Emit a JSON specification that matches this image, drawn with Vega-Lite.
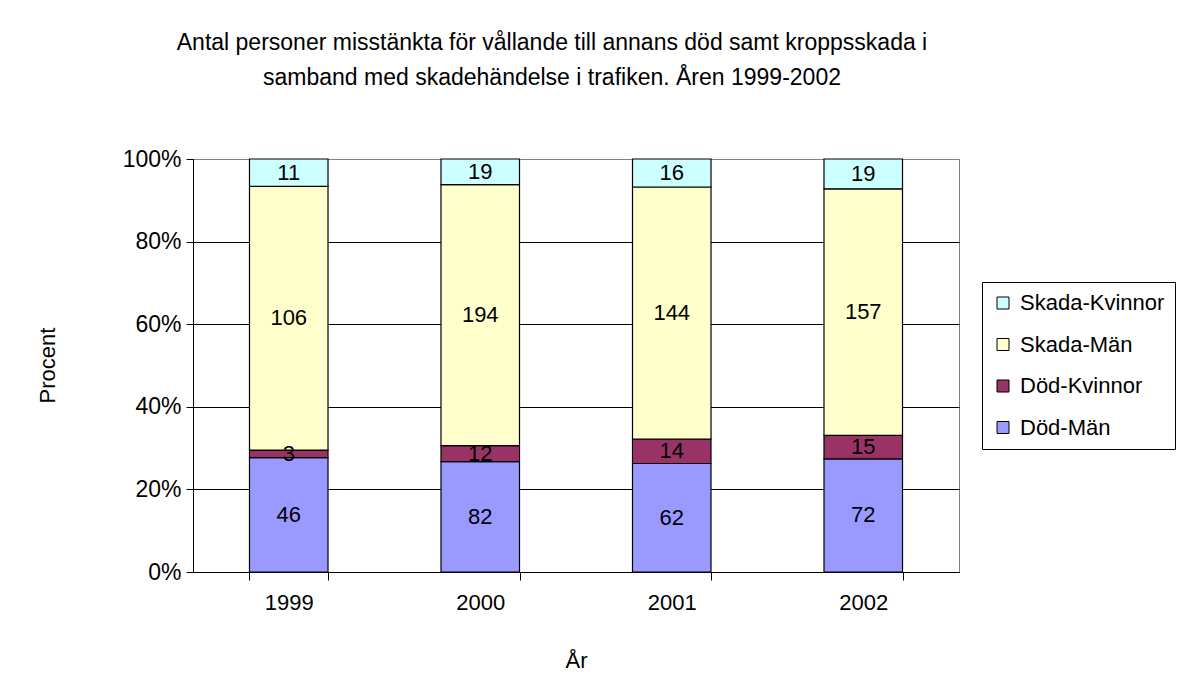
{
  "$schema": "https://vega.github.io/schema/vega-lite/v6.json",
  "width": 766,
  "height": 413,
  "autosize": {"type": "none"},
  "padding": {"left": 193, "top": 159, "right": 223, "bottom": 123},
  "background": "white",
  "config": {
    "font": "Liberation Sans",
    "view": {"stroke": "#808080", "strokeWidth": 1}
  },
  "title": {
    "text": ["Antal personer misstänkta för vållande till annans död samt kroppsskada i", "samband med skadehändelse i trafiken. Åren 1999-2002"],
    "fontSize": 23,
    "fontWeight": "normal",
    "font": "Liberation Sans",
    "color": "black",
    "anchor": "middle",
    "dx": -24,
    "offset": 58,
    "lineHeight": 35
  },
  "data": {
    "values": [
      {"year": "1999", "category": "Död-Män", "count": 46, "order": 1},
      {"year": "1999", "category": "Död-Kvinnor", "count": 3, "order": 2},
      {"year": "1999", "category": "Skada-Män", "count": 106, "order": 3},
      {"year": "1999", "category": "Skada-Kvinnor", "count": 11, "order": 4},
      {"year": "2000", "category": "Död-Män", "count": 82, "order": 1},
      {"year": "2000", "category": "Död-Kvinnor", "count": 12, "order": 2},
      {"year": "2000", "category": "Skada-Män", "count": 194, "order": 3},
      {"year": "2000", "category": "Skada-Kvinnor", "count": 19, "order": 4},
      {"year": "2001", "category": "Död-Män", "count": 62, "order": 1},
      {"year": "2001", "category": "Död-Kvinnor", "count": 14, "order": 2},
      {"year": "2001", "category": "Skada-Män", "count": 144, "order": 3},
      {"year": "2001", "category": "Skada-Kvinnor", "count": 16, "order": 4},
      {"year": "2002", "category": "Död-Män", "count": 72, "order": 1},
      {"year": "2002", "category": "Död-Kvinnor", "count": 15, "order": 2},
      {"year": "2002", "category": "Skada-Män", "count": 157, "order": 3},
      {"year": "2002", "category": "Skada-Kvinnor", "count": 19, "order": 4}
    ]
  },
  "transform": [
    {"stack": "count", "groupby": ["year"], "sort": [{"field": "order", "order": "ascending"}], "offset": "normalize", "as": ["y0", "y1"]},
    {"calculate": "(datum.y0 + datum.y1) / 2", "as": "ymid"}
  ],
  "layer": [
    {
      "mark": {"type": "bar", "stroke": "black", "strokeWidth": 1.2},
      "encoding": {
        "x": {
          "field": "year", "type": "nominal",
          "scale": {"paddingInner": 0.59, "paddingOuter": 0.295},
          "axis": {
            "title": "År", "titleFontSize": 22, "titleFontWeight": "normal", "titleColor": "black",
            "titleY": 88, "titleBaseline": "middle",
            "labelAngle": 0, "labelFontSize": 22, "labelColor": "black", "labelPadding": 12,
            "tickBand": "extent", "tickSize": 8, "tickColor": "black",
            "domainColor": "black", "grid": false
          }
        },
        "y": {
          "field": "y0", "type": "quantitative",
          "scale": {"domain": [0, 1], "nice": false},
          "axis": {
            "values": [0, 0.2, 0.4, 0.6, 0.8, 1], "format": ".0%",
            "labelFontSize": 23, "labelColor": "black", "labelPadding": 5,
            "tickSize": 7, "tickColor": "black", "domainColor": "black",
            "grid": true,
            "gridColor": {"condition": {"test": "datum.value == 1", "value": "#808080"}, "value": "black"},
            "title": "Procent", "titleFontSize": 22, "titleFontWeight": "normal", "titleColor": "black",
            "titleX": -146, "titleY": 206, "titleBaseline": "middle"
          }
        },
        "y2": {"field": "y1"},
        "color": {
          "field": "category", "type": "nominal",
          "scale": {
            "domain": ["Skada-Kvinnor", "Skada-Män", "Död-Kvinnor", "Död-Män"],
            "range": ["#CCFFFF", "#FFFFCC", "#993366", "#9999FF"]
          },
          "legend": {
            "title": null, "orient": "none", "legendX": 789, "legendY": 123,
            "strokeColor": "black", "padding": 10, "fillColor": "white",
            "symbolType": "square", "symbolSize": 144, "symbolStrokeColor": "black", "symbolStrokeWidth": 1,
            "labelFontSize": 22, "labelColor": "black", "labelLimit": 300,
            "rowPadding": 19.5, "labelOffset": 6
          }
        }
      }
    },
    {
      "mark": {"type": "text", "fontSize": 22, "color": "black", "baseline": "middle"},
      "encoding": {
        "x": {"field": "year", "type": "nominal"},
        "y": {"field": "ymid", "type": "quantitative"},
        "text": {"field": "count", "type": "quantitative"}
      }
    }
  ]
}
